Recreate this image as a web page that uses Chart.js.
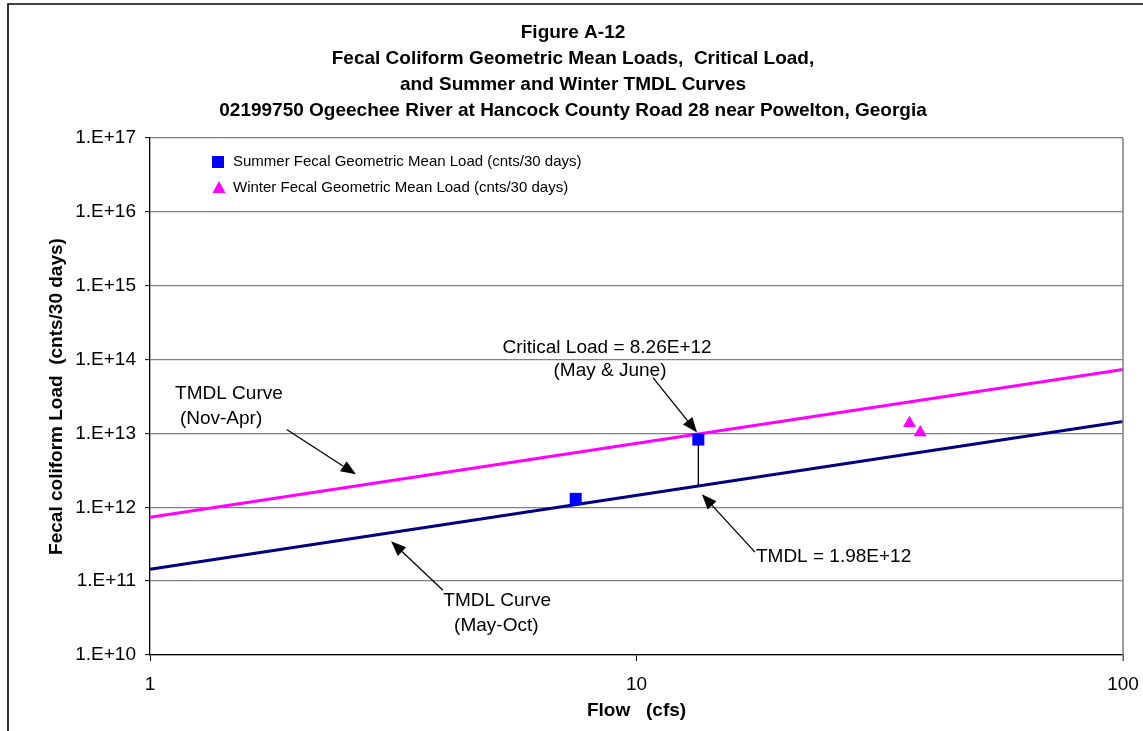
<!DOCTYPE html>
<html>
<head>
<meta charset="utf-8">
<script src="https://cdn.jsdelivr.net/npm/chart.js@4.4.1/dist/chart.umd.min.js"></script>
<style>
  html, body { margin: 0; padding: 0; background: #fff; }
  canvas { display: block; }
</style>
</head>
<body>
<canvas id="c" width="1143" height="731"></canvas>
<script>
// ---- data ----
const flowRange = [1, 100];
const winterTmdlCurve = [7.33e11, 7.33e13];   // TMDL Curve (Nov-Apr)
const summerTmdlCurve = [1.45e11, 1.45e13];   // TMDL Curve (May-Oct)
const summerFlow = [7.5, 13.4];
const summerLoad = [1.3e12, 8.26e12];
const winterFlow = [36.4, 38.3];
const winterLoad = [1.37e13, 1.03e13];
const criticalFlow = 13.4;
const criticalLoad = 8.26e12;
const tmdlLoad = 1.98e12;
const xTickValues = [1, 10, 100];
const yTickValues = [1e10, 1e11, 1e12, 1e13, 1e14, 1e15, 1e16, 1e17];
const titleLines = [
  'Figure A-12',
  'Fecal Coliform Geometric Mean Loads,  Critical Load,',
  'and Summer and Winter TMDL Curves',
  '02199750 Ogeechee River at Hancock County Road 28 near Powelton, Georgia'
];
const legendLabels = [
  'Summer Fecal Geometric Mean Load (cnts/30 days)',
  'Winter Fecal Geometric Mean Load (cnts/30 days)'
];

// annotation text and arrows, in data units (flow, load)
const noteTexts = [
  { text: 'Critical Load = 8.26E+12', at: [8.70, 1.45e14], align: 'center' },
  { text: '(May & June)', at: [8.82, 7.1e13], align: 'center' },
  { text: 'TMDL Curve', at: [1.453, 3.47e13], align: 'center' },
  { text: '(Nov-Apr)', at: [1.40, 1.6e13], align: 'center' },
  { text: 'TMDL = 1.98E+12', at: [17.6, 2.11e11], align: 'left' },
  { text: 'TMDL Curve', at: [5.17, 5.37e10], align: 'center' },
  { text: '(May-Oct)', at: [5.15, 2.47e10], align: 'center' }
];
const noteArrows = [
  { from: [10.81, 5.7e13], to: [13.32, 1.03e13] },
  { from: [17.52, 2.47e11], to: [13.63, 1.50e12] },
  { from: [1.91, 1.13e13], to: [2.65, 2.79e12] },
  { from: [4.00, 7.55e10], to: [3.13, 3.47e11] }
];

const FONT = "'Liberation Sans', Arial, Helvetica, sans-serif";

const decorPlugin = {
  id: 'decor',
  beforeDraw(chart) {
    const ctx = chart.ctx;
    ctx.save();
    ctx.fillStyle = '#fff';
    ctx.fillRect(0, 0, chart.width, chart.height);
    ctx.strokeStyle = '#000';
    ctx.lineWidth = 1.6;
    ctx.beginPath();
    ctx.moveTo(8, chart.height + 2);
    ctx.lineTo(8, 4);
    ctx.lineTo(chart.width + 2, 4);
    ctx.stroke();
    ctx.restore();
  },
  afterDraw(chart) {
    const ctx = chart.ctx;
    const a = chart.chartArea;
    const xs = chart.scales.x, ys = chart.scales.y;
    ctx.save();
    // right frame edge (gray)
    ctx.strokeStyle = '#808080';
    ctx.lineWidth = 1.5;
    ctx.beginPath();
    ctx.moveTo(a.right, a.top);
    ctx.lineTo(a.right, a.bottom + 6);
    ctx.stroke();

    // arrows
    ctx.strokeStyle = '#000';
    ctx.fillStyle = '#000';
    noteArrows.forEach(ar => {
      const x1 = xs.getPixelForValue(ar.from[0]), y1 = ys.getPixelForValue(ar.from[1]);
      const x2 = xs.getPixelForValue(ar.to[0]), y2 = ys.getPixelForValue(ar.to[1]);
      const ang = Math.atan2(y2 - y1, x2 - x1);
      const L = 15, W = 6;
      const bx = x2 - L * Math.cos(ang), by = y2 - L * Math.sin(ang);
      ctx.lineWidth = 1.3;
      ctx.beginPath();
      ctx.moveTo(x1, y1);
      ctx.lineTo(bx, by);
      ctx.stroke();
      ctx.beginPath();
      ctx.moveTo(x2, y2);
      ctx.lineTo(bx + W * Math.sin(ang), by - W * Math.cos(ang));
      ctx.lineTo(bx - W * Math.sin(ang), by + W * Math.cos(ang));
      ctx.closePath();
      ctx.fill();
    });

    // annotation texts
    ctx.font = '19px ' + FONT;
    ctx.textBaseline = 'middle';
    ctx.fillStyle = '#000';
    noteTexts.forEach(n => {
      ctx.textAlign = n.align;
      ctx.fillText(n.text, xs.getPixelForValue(n.at[0]), ys.getPixelForValue(n.at[1]));
    });

    // legend (inside plot, top-left)
    const lx = a.left + 68, ly1 = a.top + 24, ly2 = a.top + 50;
    ctx.fillStyle = '#0000FF';
    ctx.fillRect(lx - 6, ly1 - 6, 12, 12);
    ctx.fillStyle = '#FF00FF';
    ctx.beginPath();
    ctx.moveTo(lx + 1, ly2 - 7);
    ctx.lineTo(lx + 7.5, ly2 + 5);
    ctx.lineTo(lx - 5.5, ly2 + 5);
    ctx.closePath();
    ctx.fill();
    ctx.fillStyle = '#000';
    ctx.textAlign = 'left';
    ctx.font = '15px ' + FONT;
    ctx.fillText(legendLabels[0], lx + 15, ly1);
    ctx.fillText(legendLabels[1], lx + 15, ly2);
    ctx.restore();
  }
};

const toPts = (xs, ys) => xs.map((x, i) => ({ x: x, y: ys[i] }));

new Chart(document.getElementById('c'), {
  type: 'scatter',
  data: {
    datasets: [
      {
        label: legendLabels[0],
        data: toPts(summerFlow, summerLoad),
        pointStyle: 'rect',
        pointRadius: 8.5,
        pointHoverRadius: 8.5,
        backgroundColor: '#0000FF',
        borderColor: '#0000FF',
        borderWidth: 0,
        showLine: false,
        order: 0
      },
      {
        label: legendLabels[1],
        data: toPts(winterFlow, winterLoad),
        pointStyle: 'triangle',
        pointRadius: 7.5,
        pointHoverRadius: 7.5,
        backgroundColor: '#FF00FF',
        borderColor: '#FF00FF',
        borderWidth: 0,
        showLine: false,
        order: 0
      },
      {
        label: 'Critical - TMDL',
        data: toPts([criticalFlow, criticalFlow], [criticalLoad, tmdlLoad]),
        showLine: true,
        borderColor: '#000',
        borderWidth: 1.3,
        pointRadius: 0,
        order: 1
      },
      {
        label: 'TMDL Curve (Nov-Apr)',
        data: toPts(flowRange, winterTmdlCurve),
        showLine: true,
        borderColor: '#FF00FF',
        borderWidth: 3,
        pointRadius: 0,
        order: 2
      },
      {
        label: 'TMDL Curve (May-Oct)',
        data: toPts(flowRange, summerTmdlCurve),
        showLine: true,
        borderColor: '#000080',
        borderWidth: 3,
        pointRadius: 0,
        order: 2
      }
    ]
  },
  options: {
    responsive: false,
    animation: false,
    devicePixelRatio: 1,
    clip: false,
    layout: { padding: { left: 23, right: 20, top: 0, bottom: 0 } },
    plugins: {
      legend: { display: false },
      tooltip: { enabled: false },
      title: {
        display: true,
        text: titleLines,
        color: '#000',
        font: { family: FONT, size: 19, weight: 'bold', lineHeight: 26 / 19 },
        padding: { top: 20, bottom: 14 }
      }
    },
    scales: {
      x: {
        type: 'logarithmic',
        position: 'bottom',
        min: 1,
        max: 100,
        afterBuildTicks: s => { s.ticks = xTickValues.map(v => ({ value: v })); },
        afterFit: s => { s.height = 76; s.paddingLeft = 0; s.paddingRight = 0; },
        ticks: {
          color: '#000',
          font: { family: FONT, size: 19 },
          padding: 12,
          maxRotation: 0,
          autoSkip: false,
          callback: v => String(v)
        },
        grid: { drawOnChartArea: false, drawTicks: true, tickLength: 6, tickColor: '#000', tickWidth: 1 },
        border: { display: true, color: '#000', width: 1.3 },
        title: {
          display: true,
          text: 'Flow   (cfs)',
          color: '#000',
          font: { family: FONT, size: 19, weight: 'bold' },
          padding: { top: 0, bottom: 8.6 }
        }
      },
      y: {
        type: 'logarithmic',
        position: 'left',
        min: 1e10,
        max: 1e17,
        afterBuildTicks: s => { s.ticks = yTickValues.map(v => ({ value: v })); },
        afterFit: s => { s.width = 127; s.paddingTop = 0; s.paddingBottom = 0; },
        ticks: {
          color: '#000',
          font: { family: FONT, size: 19 },
          padding: 9,
          autoSkip: false,
          callback: v => '1.E+' + Math.round(Math.log10(v))
        },
        grid: { color: '#808080', lineWidth: 1.3, drawTicks: true, tickLength: 5, tickColor: '#000', tickWidth: 1 },
        border: { display: true, color: '#000', width: 1.3 },
        title: {
          display: true,
          text: 'Fecal coliform Load  (cnts/30 days)',
          color: '#000',
          font: { family: FONT, size: 19, weight: 'bold' },
          padding: { top: 22.6, bottom: 0 }
        }
      }
    }
  },
  plugins: [decorPlugin]
});
</script>
</body>
</html>
